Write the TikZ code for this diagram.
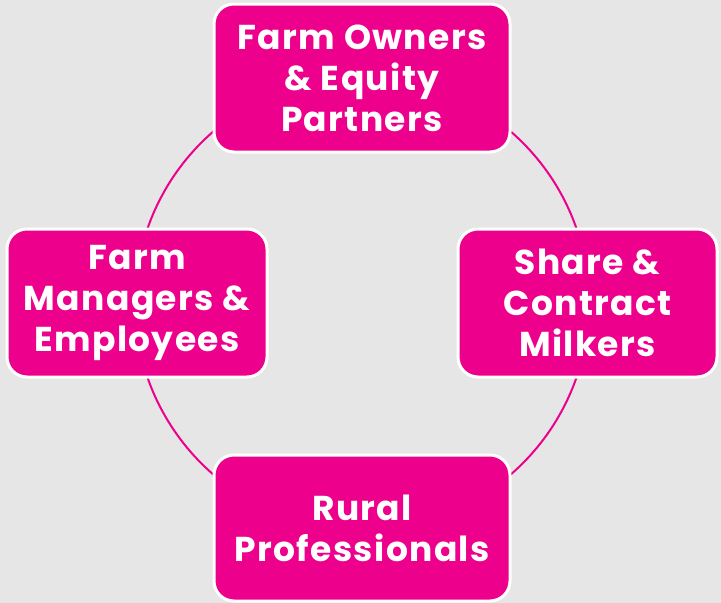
\documentclass[tikz,border=0pt]{standalone}
\usepackage{fontspec}
\setmainfont{Poppins}[BoldFont={* Bold},LetterSpace=4]
\definecolor{pinkc}{RGB}{236,0,140}
\definecolor{bgc}{RGB}{230,230,230}
\begin{document}
\begin{tikzpicture}[x=1pt,y=-1pt,
  box/.style={draw=white,line width=3pt,fill=pinkc,rounded corners=20pt,
    minimum width=#1,text=white,align=center,
    font=\fontsize{34.5}{41}\selectfont\bfseries,inner sep=0pt},
  box/.default=296pt]
\fill[bgc] (0,0) rectangle (721,603);
\useasboundingbox (0,0) rectangle (721,603);
\draw[pinkc,line width=2pt] (362,303) circle[radius=227];
\node[box=296pt,minimum height=148pt] (own) at (362,78) {Farm Owners\\\& Equity\\Partners};
\node[box=260pt,minimum height=148pt] (mgr) at (137,303) {Farm\\Managers \&\\Employees};
\node[box=259pt,minimum height=148pt] (shr) at (587.5,303) {Share \&\\Contract\\Milkers};
\node[box=296pt,minimum height=146pt] (rur) at (362,528) {Rural\\Professionals};
\end{tikzpicture}
\end{document}
